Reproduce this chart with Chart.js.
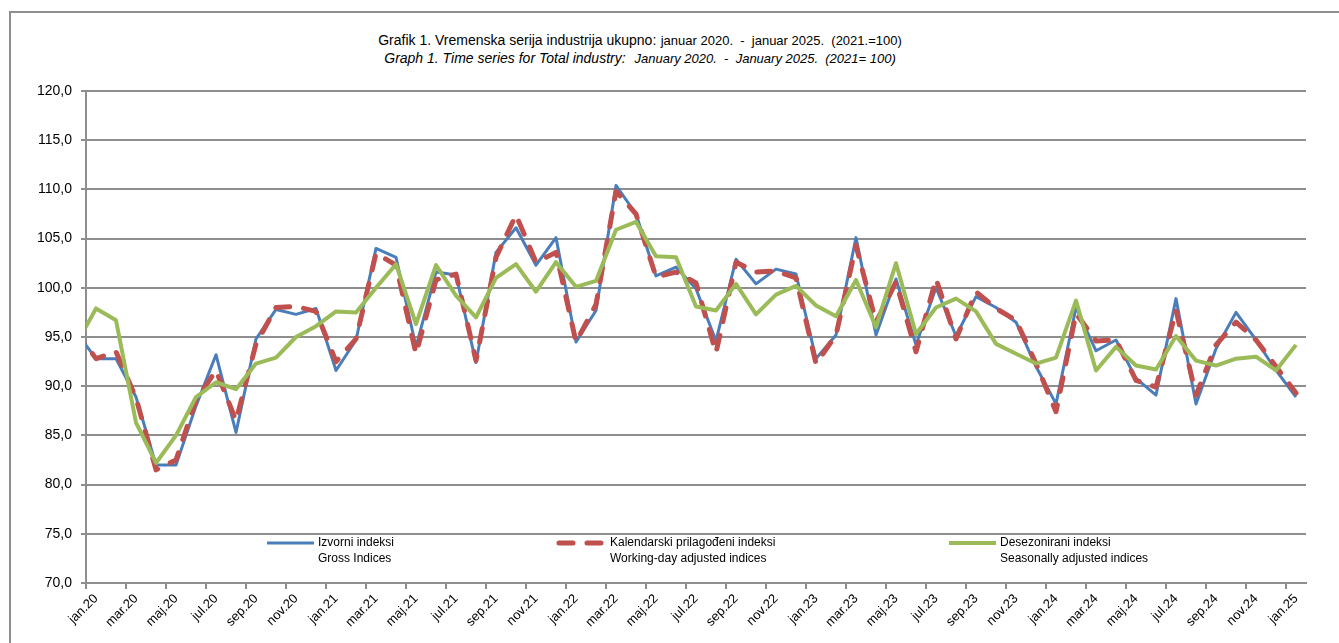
<!DOCTYPE html>
<html>
<head>
<meta charset="utf-8">
<script src="https://cdn.jsdelivr.net/npm/chart.js@4.4.1/dist/chart.umd.min.js"></script>
<style>
  html, body { margin: 0; padding: 0; background: #fff; overflow: hidden; }
  #wrap { position: relative; width: 1339px; height: 643px; overflow: hidden; }
  #frame { position: absolute; left: 9px; top: 11px; width: 1400px; height: 700px; border: 2px solid #8f8f8f; box-sizing: border-box; }
  #title { position: absolute; left: 0; top: 31px; width: 1280px; text-align: center; font-family: "Liberation Sans", Arial, sans-serif; color: #000; line-height: 17px; }
  #title .big { font-size: 14px; }
  #title .small { font-size: 13px; }
  #title .it { font-style: italic; }
  canvas { position: absolute; left: 0; top: 0; }
</style>
</head>
<body>
<div id="wrap">
  <div id="frame"></div>
  <div id="title">
    <div><span class="big">Grafik 1. Vremenska serija industrija ukupno:</span> <span class="small">januar 2020.&nbsp; -&nbsp; januar 2025.&nbsp; (2021.=100)</span></div>
    <div class="it"><span class="big">Graph 1. Time series for Total industry:</span>&nbsp; <span class="small">January 2020.&nbsp; -&nbsp; January 2025.&nbsp; (2021= 100)</span></div>
  </div>
  <canvas id="chart" width="1339" height="643"></canvas>
</div>
<script>
// mjeseci (dec.19 je samo izvan osi, linija počinje prije jan.20)
const months = [
  'dec.19',
  'jan.20','feb.20','mar.20','apr.20','maj.20','jun.20','jul.20','avg.20','sep.20','okt.20','nov.20','dec.20',
  'jan.21','feb.21','mar.21','apr.21','maj.21','jun.21','jul.21','avg.21','sep.21','okt.21','nov.21','dec.21',
  'jan.22','feb.22','mar.22','apr.22','maj.22','jun.22','jul.22','avg.22','sep.22','okt.22','nov.22','dec.22',
  'jan.23','feb.23','mar.23','apr.23','maj.23','jun.23','jul.23','avg.23','sep.23','okt.23','nov.23','dec.23',
  'jan.24','feb.24','mar.24','apr.24','maj.24','jun.24','jul.24','avg.24','sep.24','okt.24','nov.24','dec.24',
  'jan.25'
];

const izvorni = [
  95.5,
  92.8, 92.8, 88.9, 82.0, 82.0, 88.0, 93.2, 85.3, 94.8, 97.8, 97.3, 97.9,
  91.6, 94.7, 104.0, 103.1, 94.0, 101.6, 101.3, 92.4, 103.6, 106.1, 102.3, 105.1,
  94.5, 97.7, 110.4, 107.5, 101.2, 102.1, 99.9, 94.6, 102.9, 100.4, 101.9, 101.4,
  92.8, 95.2, 105.1, 95.2, 100.9, 94.2, 100.0, 95.1, 99.1, 98.0, 96.5, 92.0,
  88.2, 98.0, 93.6, 94.7, 90.8, 89.1, 98.9, 88.2, 93.8, 97.5, 94.7, 91.6,
  88.9
];

const kalendarski = [
  95.6,
  92.8, 93.5, 88.8, 81.5, 82.5, 88.6, 91.6, 86.5, 94.3, 98.0, 98.1, 97.6,
  92.5, 94.8, 103.5, 102.3, 93.3, 100.8, 101.4, 92.6, 103.1, 107.4, 102.6, 103.6,
  94.5, 98.3, 109.8, 107.5, 101.1, 101.6, 100.5, 93.4, 102.6, 101.6, 101.7, 101.0,
  92.3, 95.2, 104.3, 96.5, 100.6, 93.5, 100.9, 94.8, 99.6, 97.9, 96.7, 92.3,
  87.4, 97.4, 94.6, 94.7, 90.6, 89.9, 97.7, 89.1, 94.2, 96.5, 94.7, 92.0,
  89.3
];

const desezonirani = [
  94.2,
  97.9, 96.7, 86.3, 82.2, 85.0, 88.9, 90.4, 89.7, 92.3, 92.9, 95.0, 96.1,
  97.6, 97.5, 100.0, 102.4, 96.3, 102.3, 99.2, 97.0, 101.0, 102.4, 99.6, 102.6,
  100.1, 100.7, 105.9, 106.7, 103.2, 103.1, 98.1, 97.7, 100.4, 97.3, 99.3, 100.2,
  98.2, 97.1, 100.8, 96.0, 102.5, 95.3, 98.0, 98.9, 97.6, 94.3, 93.3, 92.3,
  92.9, 98.7, 91.6, 94.0, 92.1, 91.7, 95.1, 92.6, 92.1, 92.8, 93.0, 91.6,
  94.2
];

const legendTop = ['Izvorni indeksi', 'Kalendarski prilagođeni indeksi', 'Desezonirani indeksi'];
const legendBottom = ['Gross Indices', 'Working-day adjusted indices', 'Seasonally adjusted indices'];

const FONT = '"Liberation Sans", Arial, sans-serif';
const GRID = '#8e8e8e';

// legenda unutar grafika, dva reda teksta
const innerLegend = {
  id: 'innerLegend',
  afterDatasetsDraw(chart) {
    const ctx = chart.ctx;
    const xs = [265, 557, 947];
    const y1 = 543, y2 = 559;
    chart.data.datasets.forEach((ds, i) => {
      ctx.save();
      ctx.strokeStyle = ds.borderColor;
      ctx.lineWidth = ds.borderWidth;
      ctx.lineCap = ds.borderCapStyle || 'butt';
      ctx.setLineDash(ds.borderDash || []);
      ctx.beginPath();
      ctx.moveTo(xs[i] + 2, y1);
      ctx.lineTo(xs[i] + 49, y1);
      ctx.stroke();
      ctx.setLineDash([]);
      ctx.fillStyle = '#000';
      ctx.font = '12px ' + FONT;
      ctx.textBaseline = 'middle';
      ctx.fillText(legendTop[i], xs[i] + 53, y1);
      ctx.fillText(legendBottom[i], xs[i] + 53, y2);
      ctx.restore();
    });
  }
};

Chart.defaults.font.family = FONT;
Chart.defaults.color = '#000';

new Chart(document.getElementById('chart').getContext('2d'), {
  type: 'line',
  data: {
    labels: months,
    datasets: [
      {
        label: legendTop[0],
        data: izvorni,
        borderColor: '#4A7EBB',
        borderWidth: 3,
        order: 2
      },
      {
        label: legendTop[1],
        data: kalendarski,
        borderColor: '#C0504D',
        borderWidth: 5,
        borderDash: [14, 14],
        borderCapStyle: 'round',
        order: 1
      },
      {
        label: legendTop[2],
        data: desezonirani,
        borderColor: '#9BBB59',
        borderWidth: 4,
        order: 0
      }
    ]
  },
  options: {
    responsive: false,
    animation: false,
    events: [],
    layout: { padding: { top: 91, right: 33, left: 10, bottom: 0 } },
    elements: {
      point: { radius: 0 },
      line: { tension: 0, borderJoinStyle: 'round' }
    },
    datasets: { line: { clip: 0 } },
    plugins: {
      legend: { display: false },
      title: { display: false },
      tooltip: { enabled: false }
    },
    scales: {
      x: {
        type: 'category',
        min: 'jan.20',
        max: 'jan.25',
        offset: true,
        afterFit: (scale) => { scale.height = 60; },
        grid: {
          offset: true,
          drawOnChartArea: false,
          drawTicks: true,
          tickLength: 6,
          lineWidth: 2,
          color: (ctx) => (ctx.index % 2 === 0 ? GRID : 'rgba(0,0,0,0)')
        },
        border: { display: true, color: GRID, width: 2 },
        ticks: {
          autoSkip: false,
          maxRotation: 45,
          minRotation: 45,
          padding: 2,
          font: { size: 13 },
          callback: function (value, index) {
            return index % 2 === 0 ? this.getLabelForValue(value) : '';
          }
        }
      },
      y: {
        min: 70,
        max: 120,
        afterFit: (scale) => { scale.width = 76; },
        grid: {
          color: GRID,
          lineWidth: 2,
          tickLength: 5,
          drawTicks: true
        },
        border: { display: true, color: GRID, width: 2 },
        ticks: {
          stepSize: 5,
          padding: 9,
          font: { size: 14 },
          callback: (v) => v.toFixed(1).replace('.', ',')
        }
      }
    }
  },
  plugins: [innerLegend]
});
</script>
</body>
</html>
